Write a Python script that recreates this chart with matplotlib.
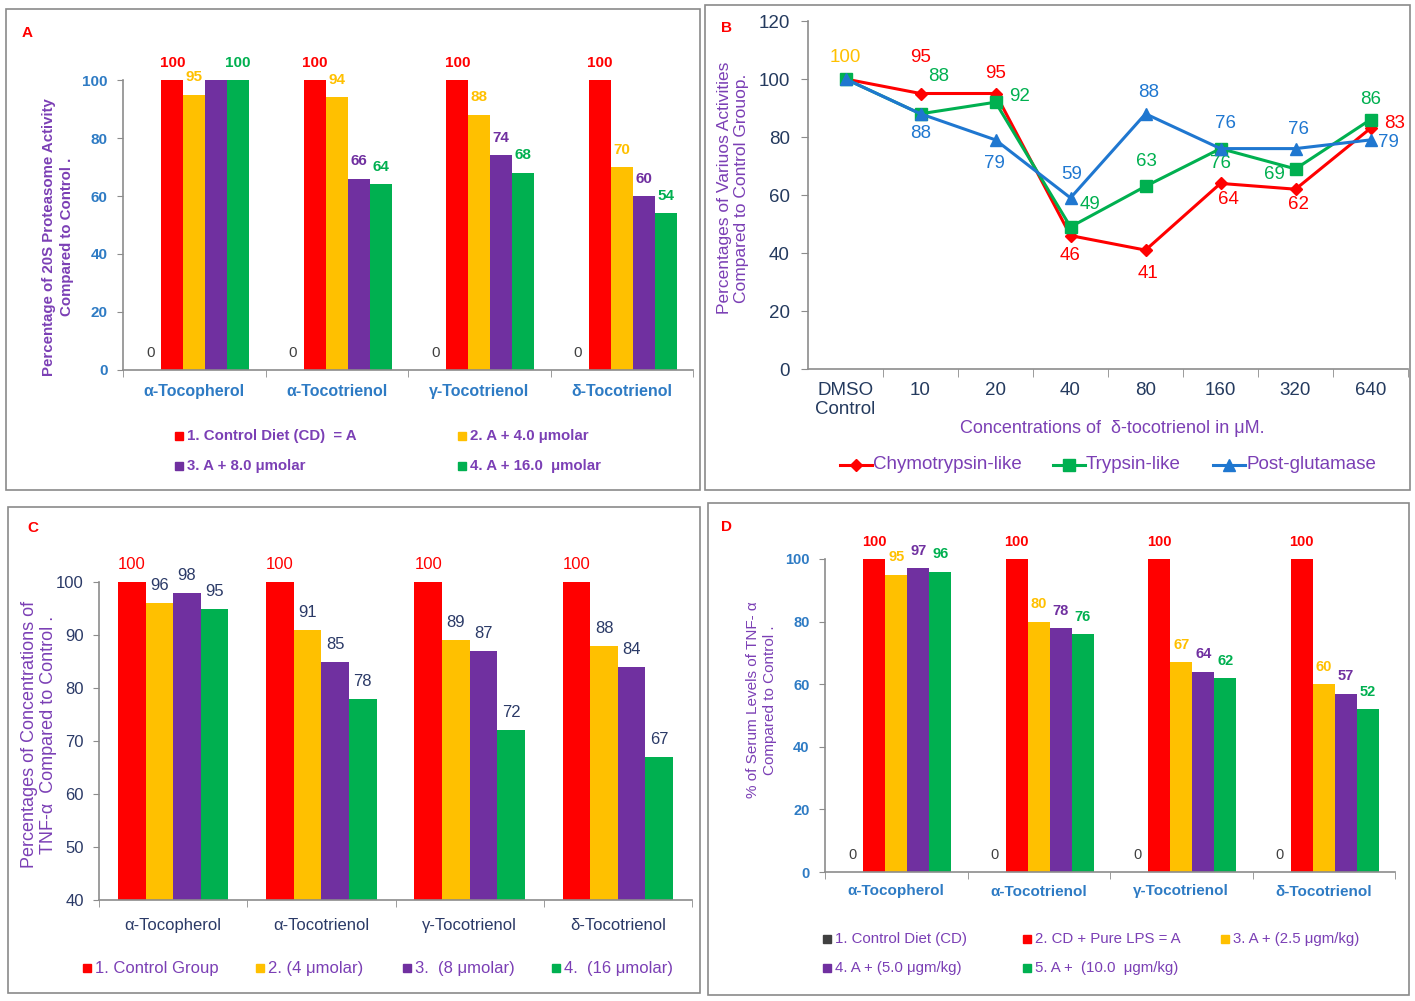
import numpy as np
import matplotlib.pyplot as plt
from matplotlib.patches import Rectangle
from matplotlib.lines import Line2D

plt.rcParams['font.family'] = ['Liberation Sans', 'DejaVu Sans']

W, H = 1415, 1001

RED = '#FF0000'
YEL = '#FFC000'
PUR = '#7030A0'
GRN = '#00B050'
DARK = '#404040'
BLUE = '#2E7BC4'
NAVY = '#2B3A67'
LAV = '#7B3FB5'
AXC = '#8C8C8C'

# ---------------- data ----------------
groups = ["α-Tocopherol", "α-Tocotrienol", "γ-Tocotrienol", "δ-Tocotrienol"]

# panel A : 20S proteasome activity
a_legend = ["1. Control Diet (CD)  = A", "2. A + 4.0 μmolar",
            "3. A + 8.0 μmolar", "4. A + 16.0  μmolar"]
a_zero = [0, 0, 0, 0]
a_control = [100, 100, 100, 100]
a_4 = [95, 94, 88, 70]
a_8 = [100, 66, 74, 60]
a_16 = [100, 64, 68, 54]
a_8_shown = [False, True, True, True]   # the first purple bar carries no label

# panel B : activities vs delta-tocotrienol concentration
b_conc = ["DMSO\nControl", "10", "20", "40", "80", "160", "320", "640"]
b_names = ["Chymotrypsin-like", "Trypsin-like", "Post-glutamase"]
b_chymo = [100, 95, 95, 46, 41, 64, 62, 83]
b_tryp = [100, 88, 92, 49, 63, 76, 69, 86]
b_postg = [100, 88, 79, 59, 88, 76, 76, 79]

# panel C : TNF-alpha concentrations
c_legend = ["1. Control Group", "2. (4 μmolar)", "3.  (8 μmolar)", "4.  (16 μmolar)"]
c_control = [100, 100, 100, 100]
c_4 = [96, 91, 89, 88]
c_8 = [98, 85, 87, 84]
c_16 = [95, 78, 72, 67]

# panel D : serum TNF-alpha
d_legend = ["1. Control Diet (CD)", "2. CD + Pure LPS = A", "3. A + (2.5 μgm/kg)",
            "4. A + (5.0 μgm/kg)", "5. A +  (10.0  μgm/kg)"]
d_cd = [0, 0, 0, 0]
d_lps = [100, 100, 100, 100]
d_25 = [95, 80, 67, 60]
d_50 = [97, 78, 64, 57]
d_100 = [96, 76, 62, 52]


def fx(x):
    return x / W


def fy(y):
    return 1 - y / H


def axes_px(left, top, right, bottom):
    return fig.add_axes([fx(left), fy(bottom), (right - left) / W, (bottom - top) / H])


def style_axes(ax):
    for s in ['top', 'right']:
        ax.spines[s].set_visible(False)
    for s in ['left', 'bottom']:
        ax.spines[s].set_color(AXC)
        ax.spines[s].set_linewidth(1.2)


def bar_panel(ax, series, colors, lab_colors, width, off, fs, weight, shown=None):
    x = np.arange(len(groups))
    n = len(series)
    for i, vals in enumerate(series):
        pos = x + (i - (n - 1) / 2) * width
        ax.bar(pos, vals, width, color=colors[i], zorder=2)
        show = shown[i] if shown and shown[i] else [True] * len(vals)
        for p, v, s in zip(pos, vals, show):
            if not s:
                continue
            ax.text(p, v + off, str(v), ha='center', va='center', color=lab_colors[i],
                    fontsize=fs, fontweight=weight if v > 0 else 'normal', clip_on=False)
    ax.set_xlim(-0.5, len(groups) - 0.5)
    ax.set_xticks(x)
    ax.set_xticks(np.arange(len(groups) + 1) - 0.5, minor=True)
    ax.tick_params(axis='x', which='major', length=0)
    ax.tick_params(axis='x', which='minor', length=5, color=AXC, direction='out')
    ax.tick_params(axis='y', length=4, color=AXC)
    style_axes(ax)


def square_legend(items, fs, weight, tcolor):
    for xpx, ypx, label, col in items:
        fig.patches.append(Rectangle((fx(xpx), fy(ypx + 4)), 8 / W, 8 / H,
                                     transform=fig.transFigure, color=col))
        fig.text(fx(xpx + 12), fy(ypx), label, ha='left', va='center',
                 fontsize=fs, fontweight=weight, color=tcolor)


fig = plt.figure(figsize=(W / 100, H / 100), dpi=100)

# panel frames
for l, t, r, b in [(6, 9, 700, 490), (705, 5, 1410, 490), (8, 507, 700, 993), (708, 503, 1409, 995)]:
    fig.patches.append(Rectangle((fx(l), fy(b)), (r - l) / W, (b - t) / H, transform=fig.transFigure,
                                 fill=False, edgecolor='#8A8A8A', linewidth=1.2))

for lab, x, y in [("A", 27, 33), ("B", 727, 28), ("C", 33, 528), ("D", 727, 527)]:
    fig.text(fx(x), fy(y), lab, color=RED, fontsize=11, fontweight='bold', ha='center', va='center')

# =====================
# PANEL A
# =====================
axA = axes_px(123, 80, 693, 370)
bar_panel(axA, [a_zero, a_control, a_4, a_8, a_16], ['k', RED, YEL, PUR, GRN],
          [DARK, RED, YEL, PUR, GRN], 0.154, 6, 11, 'bold',
          shown=[None, None, None, a_8_shown, None])
axA.set_ylim(0, 100)
axA.set_yticks(range(0, 101, 20), [str(v) for v in range(0, 101, 20)],
               color=BLUE, fontsize=11, fontweight='bold')
axA.set_xticklabels(groups, color=BLUE, fontsize=11.5, fontweight='bold')
axA.tick_params(axis='x', which='major', pad=10)
axA.tick_params(axis='y', pad=7)
axA.set_ylabel("Percentage of 20S Proteasome Activity\nCompared to Control .", color=LAV,
               fontsize=10.8, fontweight='bold', va='center', linespacing=1.3)
axA.yaxis.set_label_coords(-0.114, 0.46)
square_legend([(175, 436, a_legend[0], RED), (458, 436, a_legend[1], YEL),
               (175, 466, a_legend[2], PUR), (458, 466, a_legend[3], GRN)], 10.8, 'bold', LAV)

# =====================
# PANEL B
# =====================
axB = axes_px(808, 21, 1408, 369)
xb = np.arange(len(b_conc))
b_series = [b_chymo, b_tryp, b_postg]
b_colors = [RED, GRN, '#1F77D0']
b_markers = ['D', 's', '^']
b_ms = [6, 8.5, 8.5]
b_offsets = [
    [None, (0, 36), (0, 20), (0, -20), (2, -23), (8, -16), (3, -15), (24, 5)],
    [None, (18, 37), (24, 6), (19, 22), (1, 25), (0, -15), (-21, -6), (0, 20)],
    [None, (0, -20), (-1, -24), (1, 23), (3, 21), (5, 25), (3, 19), (18, -3)],
]
for vals, col, mk, ms, offs in zip(b_series, b_colors, b_markers, b_ms, b_offsets):
    axB.plot(xb, vals, color=col, marker=mk, markersize=ms, linewidth=2.2, zorder=3)
    for xi, v, o in zip(xb, vals, offs):
        if o is None:
            continue
        axB.annotate(str(v), (xi, v), xytext=o, textcoords='offset pixels', ha='center',
                     va='center', color=col, fontsize=13.5)
axB.annotate(str(b_chymo[0]), (xb[0], b_chymo[0]), xytext=(0, 22), textcoords='offset pixels',
             ha='center', va='center', color=YEL, fontsize=13.5)
axB.set_xlim(-0.5, len(b_conc) - 0.5)
axB.set_ylim(0, 120)
axB.set_xticks(xb, b_conc, color='#243A5E', fontsize=13.5)
axB.set_xticks(np.arange(len(b_conc)) + 0.5, minor=True)
axB.tick_params(axis='x', which='major', length=0, pad=9)
axB.tick_params(axis='x', which='minor', length=6, color=AXC)
axB.set_yticks(range(0, 121, 20), [str(v) for v in range(0, 121, 20)], color='#243A5E', fontsize=13.5)
axB.tick_params(axis='y', length=5, color=AXC, pad=8)
style_axes(axB)
axB.set_ylabel("Percentages of Variuos Activities\nCompared to Control Grouop.", color=LAV,
               fontsize=12.5, va='center', linespacing=1.15)
axB.yaxis.set_label_coords(-0.125, 0.52)
axB.text(0.507, -0.17, "Concentrations of  δ-tocotrienol in μM.", transform=axB.transAxes,
         ha='center', va='center', color=LAV, fontsize=13)
for (x0, x1), col, mk, ms, name in zip([(840, 872), (1053, 1085), (1213, 1245)], b_colors,
                                       b_markers, b_ms, b_names):
    fig.add_artist(Line2D([fx(x0), fx(x1)], [fy(465), fy(465)], color=col, linewidth=2.2,
                          transform=fig.transFigure))
    fig.add_artist(Line2D([fx((x0 + x1) / 2)], [fy(465)], color=col, marker=mk, markersize=ms,
                          transform=fig.transFigure))
    fig.text(fx(x1 + 1), fy(465), name, ha='left', va='center', fontsize=13.5, color=LAV)

# =====================
# PANEL C
# =====================
axC = axes_px(99, 582, 692, 900)
bar_panel(axC, [c_control, c_4, c_8, c_16], [RED, YEL, PUR, GRN],
          [RED, NAVY, NAVY, NAVY], 0.186, 3.3, 12, 'normal')
axC.set_ylim(40, 100)
axC.set_yticks(range(40, 101, 10), [str(v) for v in range(40, 101, 10)], color=NAVY, fontsize=12)
axC.set_xticklabels(groups, color=NAVY, fontsize=12)
axC.tick_params(axis='x', which='major', pad=13)
axC.tick_params(axis='y', pad=7)
axC.set_ylabel("Percentages of Concentrations of\nTNF-α  Compared to Control .", color=LAV,
               fontsize=13, va='center', linespacing=1.1)
axC.yaxis.set_label_coords(-0.101, 0.52)
square_legend([(83, 968, c_legend[0], RED), (256, 968, c_legend[1], YEL),
               (403, 968, c_legend[2], PUR), (552, 968, c_legend[3], GRN)], 12, 'normal', LAV)

# =====================
# PANEL D
# =====================
axD = axes_px(825, 559, 1395, 872)
bar_panel(axD, [d_cd, d_lps, d_25, d_50, d_100], [DARK, RED, YEL, PUR, GRN],
          [DARK, RED, YEL, PUR, GRN], 0.154, 5.5, 10.5, 'bold')
axD.set_ylim(0, 100)
axD.set_yticks(range(0, 101, 20), [str(v) for v in range(0, 101, 20)],
               color=BLUE, fontsize=10.5, fontweight='bold')
axD.set_xticklabels(groups, color=BLUE, fontsize=11, fontweight='bold')
axD.tick_params(axis='x', which='major', pad=9)
axD.tick_params(axis='y', pad=7)
axD.set_ylabel("% of Serum Levels of TNF- α\nCompared to Control .", color=LAV,
               fontsize=11, va='center', linespacing=1.25)
axD.yaxis.set_label_coords(-0.112, 0.55)
square_legend([(823, 939, d_legend[0], DARK), (1023, 939, d_legend[1], RED),
               (1221, 939, d_legend[2], YEL), (823, 968, d_legend[3], PUR),
               (1023, 968, d_legend[4], GRN)], 10.8, 'normal', LAV)

fig.savefig("out.png", dpi=100)
